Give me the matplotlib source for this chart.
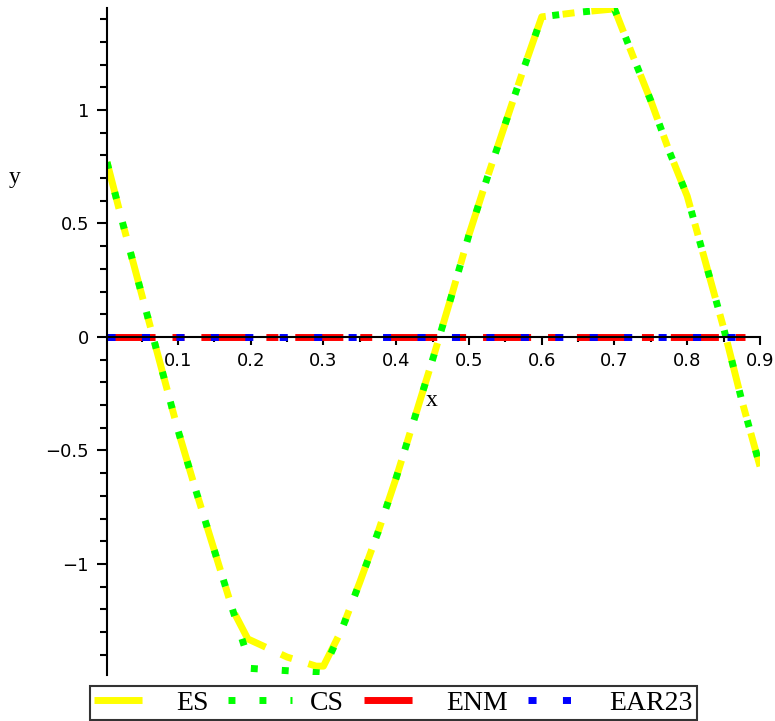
import matplotlib

matplotlib.use("Agg")
import matplotlib.pyplot as plt
from matplotlib.ticker import MultipleLocator, FuncFormatter

# values
x_es = [0.0025, 0.025, 0.05, 0.075, 0.1, 0.125, 0.15, 0.175, 0.196, 0.25, 0.29, 0.3,
        0.325, 0.35, 0.375, 0.4, 0.425, 0.45, 0.475, 0.5, 0.525, 0.55, 0.575, 0.6,
        0.65, 0.7, 0.725, 0.75, 0.775, 0.8, 0.825, 0.85, 0.875, 0.9]
y_es = [0.77, 0.49, 0.19, -0.11, -0.41, -0.68, -0.94, -1.20, -1.33, -1.41, -1.45, -1.45,
        -1.29, -1.08, -0.86, -0.62, -0.36, -0.10, 0.17, 0.45, 0.70, 0.94, 1.18, 1.41,
        1.43, 1.445, 1.24, 1.04, 0.82, 0.62, 0.33, 0.04, -0.28, -0.57]
x_cs = [0.0025, 0.025, 0.05, 0.075, 0.1, 0.125, 0.15, 0.175, 0.192, 0.2, 0.25, 0.298,
        0.325, 0.35, 0.375, 0.4, 0.425, 0.45, 0.475, 0.5, 0.525, 0.55, 0.575, 0.6,
        0.65, 0.7, 0.725, 0.75, 0.775, 0.8, 0.825, 0.85, 0.875, 0.9]
y_cs = [0.77, 0.49, 0.19, -0.11, -0.41, -0.68, -0.94, -1.20, -1.37, -1.46, -1.47, -1.48,
        -1.29, -1.08, -0.86, -0.62, -0.36, -0.10, 0.17, 0.45, 0.70, 0.94, 1.18, 1.41,
        1.43, 1.445, 1.24, 1.04, 0.82, 0.62, 0.33, 0.04, -0.28, -0.57]
x_zero = [0.0025, 0.88]
y_enm = [0.0, 0.0]
y_ear23 = [0.0, 0.0]

plt.rcParams["lines.scale_dashes"] = False

fig = plt.figure(figsize=(7.75, 7.21), dpi=100)
ax = fig.add_axes([107 / 775, 46 / 721, 653 / 775, 667 / 721])

dashdot = (0, (34.6, 12.2, 8.6, 12.2))
ax.plot(x_es, y_es, color="#ffff00", lw=5, linestyle=dashdot, solid_capstyle="butt",
        dash_capstyle="butt", label="ES", zorder=2)
ax.plot(x_cs, y_cs, color="#00ff00", lw=5, linestyle=(0, (5, 17.3)), dash_capstyle="butt",
        label="CS", zorder=3)
ax.plot(x_zero, y_enm, color="#ff0000", lw=5, linestyle=dashdot, dash_capstyle="butt",
        label="ENM", zorder=2)
ax.plot(x_zero, y_ear23, color="#0000ff", lw=5, linestyle=(0, (5.8, 19)), dash_capstyle="butt",
        label="EAR23", zorder=3)

ax.set_xlim(0.0025, 0.9)
ax.set_ylim(-1.489, 1.449)

for side in ("top", "right"):
    ax.spines[side].set_visible(False)
ax.spines["bottom"].set_position(("data", 0))
for side in ("bottom", "left"):
    ax.spines[side].set_linewidth(1.5)
    ax.spines[side].set_zorder(5)

ax.xaxis.set_major_locator(MultipleLocator(0.1))
ax.xaxis.set_minor_locator(MultipleLocator(0.05))
ax.yaxis.set_major_locator(MultipleLocator(0.5))
ax.yaxis.set_minor_locator(MultipleLocator(0.1))
fmt = FuncFormatter(lambda v, pos: ("%g" % round(v, 3)).replace("-", "\u2212"))
ax.xaxis.set_major_formatter(fmt)
ax.yaxis.set_major_formatter(fmt)

ax.tick_params(axis="x", which="major", length=6, width=1.5, pad=5, labelsize=13)
ax.tick_params(axis="x", which="minor", length=3.5, width=1.5)
ax.tick_params(axis="y", which="major", length=7, width=1.5, pad=6, labelsize=13)
ax.tick_params(axis="y", which="minor", length=5, width=1.5)

fig.text(15 / 775, 1 - 178 / 721, "y", family="Liberation Serif", fontsize=17,
         ha="center", va="center")
fig.text(432 / 775, 1 - 400 / 721, "x", family="Liberation Serif", fontsize=17,
         ha="center", va="center")

leg = fig.legend(loc="lower left", bbox_to_anchor=(90 / 775, 1 / 721, 607 / 775, 40 / 721),
                 ncol=4, mode="expand", frameon=True, fancybox=False, borderaxespad=0,
                 handlelength=2.3, handletextpad=0.65, borderpad=0.15, columnspacing=0.5,
                 prop={"family": "Liberation Serif", "size": 20})
leg.get_frame().set_edgecolor("black")
leg.get_frame().set_linewidth(1.5)

fig.savefig("out.png", dpi=100)
